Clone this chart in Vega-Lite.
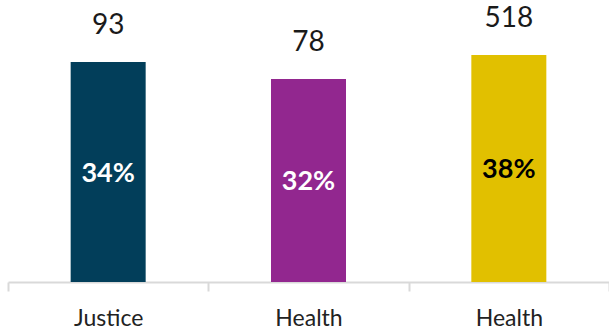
{
  "$schema": "https://vega.github.io/schema/vega-lite/v6.json",
  "autosize": "none",
  "width": 601,
  "height": 282,
  "padding": {"left": 8, "top": 0, "right": 0, "bottom": 54},
  "background": "white",
  "config": {"view": {"stroke": null}},
  "data": {
    "values": [
      {"key": "Justice|1", "value": 34, "pct": "34%", "n": 93},
      {"key": "Health|2", "value": 31.4, "pct": "32%", "n": 78},
      {"key": "Health|3", "value": 35.1, "pct": "38%", "n": 518}
    ]
  },
  "transform": [{"calculate": "datum.value / 2", "as": "mid"}],
  "encoding": {
    "x": {
      "field": "key",
      "type": "nominal",
      "sort": null,
      "scale": {"paddingInner": 0, "paddingOuter": 0},
      "axis": {
        "title": null,
        "labelAngle": 0,
        "labelExpr": "datum.value ? split(datum.value, '|')[0] : ''",
        "labelFont": "Lato",
        "labelFontSize": 23,
        "labelColor": "#222222",
        "labelPadding": 16,
        "domainColor": "#d9d9d9",
        "domainWidth": 2,
        "tickColor": "#d9d9d9",
        "tickWidth": 2,
        "tickSize": 9,
        "tickBand": "extent"
      }
    }
  },
  "layer": [
    {
      "mark": {"type": "bar", "size": 75},
      "encoding": {
        "y": {"field": "value", "type": "quantitative", "scale": {"domain": [0, 43.6]}, "axis": null},
        "color": {
          "field": "key",
          "type": "nominal",
          "sort": null,
          "scale": {"range": ["#023e5a", "#92278f", "#e1c000"]},
          "legend": null
        }
      }
    },
    {
      "mark": {"type": "text", "baseline": "bottom", "dy": -22, "font": "Lato", "fontSize": 28, "color": "#1a1a1a"},
      "encoding": {
        "y": {"field": "value", "type": "quantitative", "scale": {"domain": [0, 43.6]}},
        "text": {"field": "n", "type": "quantitative"}
      }
    },
    {
      "mark": {"type": "text", "baseline": "middle", "dy": 2, "font": "Lato", "fontSize": 27, "fontWeight": "bold"},
      "encoding": {
        "y": {"field": "mid", "type": "quantitative", "scale": {"domain": [0, 43.6]}},
        "text": {"field": "pct"},
        "color": {
          "field": "key",
          "type": "nominal",
          "sort": null,
          "scale": {"range": ["#ffffff", "#ffffff", "#000000"]},
          "legend": null
        }
      }
    }
  ],
  "resolve": {"scale": {"color": "independent"}}
}
